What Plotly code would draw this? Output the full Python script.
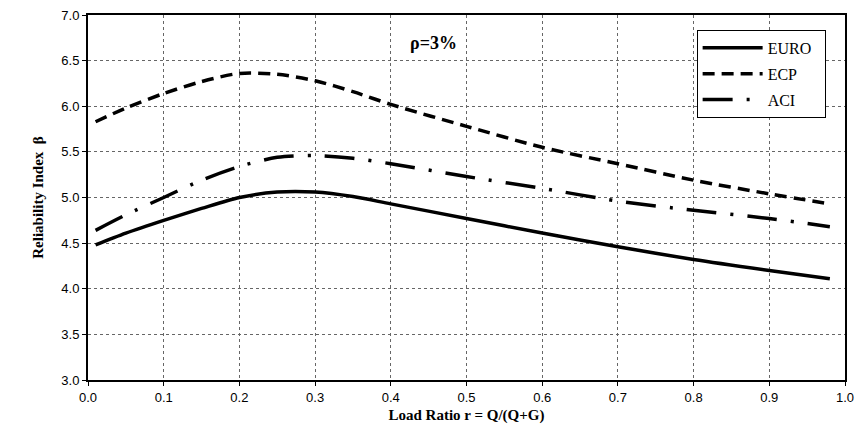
import plotly.graph_objects as go

r = [0.01, 0.05, 0.10, 0.15, 0.20, 0.25, 0.30, 0.35, 0.40, 0.50, 0.60, 0.70, 0.80, 0.90, 0.98]
euro = [4.48, 4.61, 4.75, 4.88, 5.00, 5.06, 5.06, 5.01, 4.93, 4.77, 4.61, 4.46, 4.32, 4.20, 4.11]
ecp = [5.83, 5.98, 6.14, 6.27, 6.36, 6.35, 6.28, 6.16, 6.02, 5.78, 5.55, 5.37, 5.19, 5.04, 4.93]
aci = [4.64, 4.81, 5.00, 5.19, 5.34, 5.44, 5.46, 5.43, 5.37, 5.23, 5.10, 4.96, 4.86, 4.77, 4.68]
names = ["EURO", "ECP", "ACI"]

fig = go.Figure()
fig.add_trace(go.Scatter(x=r, y=euro, name=names[0] + "\u00a0\u00a0", mode="lines", line_shape="spline",
                         legendgroup="a", line=dict(color="black", width=3.5, smoothing=0.8)))
fig.add_trace(go.Scatter(x=r, y=ecp, name=names[1], mode="lines", line_shape="spline",
                         legendgroup="b", line=dict(color="black", width=3.5, dash="12px,7px", smoothing=0.8)))
fig.add_trace(go.Scatter(x=r, y=aci, name=names[2], mode="lines", line_shape="spline",
                         legendgroup="c", line=dict(color="black", width=3.5, dash="30px,14px,3px,14px", smoothing=0.8)))

fig.add_annotation(x=0.457, y=6.69, text="ρ=3%", showarrow=False,
                   font=dict(family="Liberation Serif", size=18, color="black", weight="bold"))

axis_common = dict(showline=True, linecolor="black", linewidth=2, mirror=True,
                   showgrid=True, gridcolor="#666", griddash="dot", gridwidth=1,
                   ticks="outside", ticklen=4, tickcolor="black",
                   tickfont=dict(family="Liberation Sans", size=13, color="black"),
                   zeroline=False, automargin=False)

fig.update_xaxes(range=[0, 1], dtick=0.1, tickformat=".1f",
                 title=dict(text="<b>Load Ratio r = Q/(Q+G)</b>",
                            font=dict(family="Liberation Serif", size=15, color="black"),
                            standoff=6),
                 **axis_common)
fig.update_yaxes(range=[3, 7], dtick=0.5, tickformat=".1f",
                 title=dict(text="<b>Reliability Index  β</b>",
                            font=dict(family="Liberation Serif", size=15, color="black"),
                            standoff=14),
                 **axis_common)

fig.update_layout(
    width=860, height=441,
    margin=dict(l=88, r=15, t=15, b=61, autoexpand=False),
    paper_bgcolor="white", plot_bgcolor="white",
    showlegend=True,
    legend=dict(x=0.804, y=0.959, xanchor="left", yanchor="top",
                bordercolor="black", borderwidth=1, bgcolor="white",
                font=dict(family="Liberation Serif", size=16, color="black"),
                itemwidth=60, tracegroupgap=2),
)

fig.write_html("out.html", config={"displayModeBar": False},
               post_script="document.body.style.margin='0';")
